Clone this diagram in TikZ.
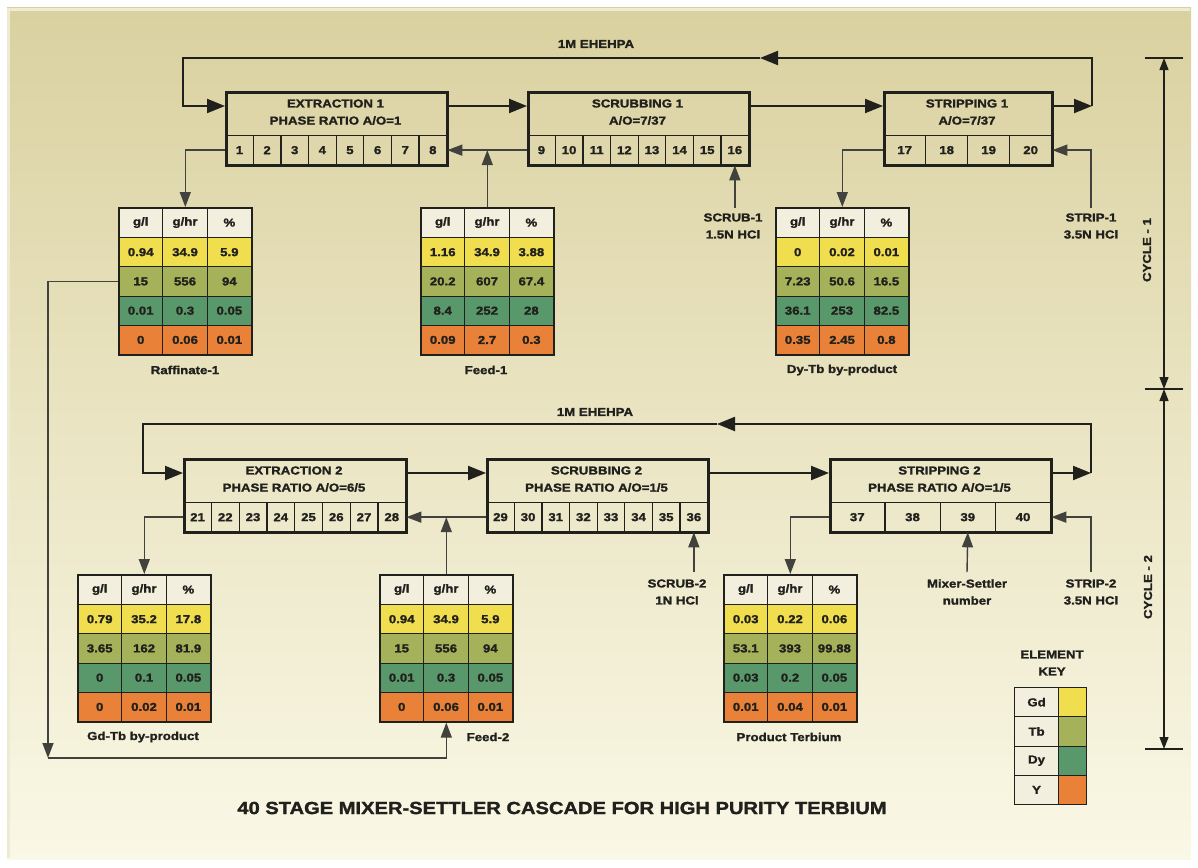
\documentclass[tikz,border=0pt]{standalone}
\usepackage{fontspec}
\setmainfont{Liberation Sans}[FakeStretch=1.15, BoldFeatures={FakeStretch=1.15, FakeBold=1.6}]
\usetikzlibrary{arrows.meta,calc}
\definecolor{cGd}{RGB}{241,222,78}
\definecolor{cTb}{RGB}{166,178,90}
\definecolor{cDy}{RGB}{88,152,106}
\definecolor{cY}{RGB}{233,130,56}
\definecolor{cHead}{RGB}{243,239,222}
\definecolor{ink}{RGB}{32,32,28}
\definecolor{bgA}{RGB}{218,209,160}
\definecolor{bgB}{RGB}{250,248,230}

\tikzset{
 every node/.style={font=\fontsize{11.5}{17}\selectfont\bfseries, text=ink},
 pbox/.style={draw=ink, line width=2.8pt, inner sep=0pt},
 pcell/.style={draw=ink, line width=1.3pt, inner sep=0pt},
 tcell/.style={draw=ink, line width=1.1pt, inner sep=0pt, minimum width=44.333pt, minimum height=29.25pt},
 tframe/.style={draw=ink, line width=1.6pt, inner sep=0pt, minimum width=133pt, minimum height=147pt},
 flow/.style={draw=ink, line width=2.2pt, -{Triangle[length=18pt,width=14pt]}},
 side/.style={draw=ink!85, line width=1.4pt, -{Triangle[length=15pt,width=11pt]}},
 dim/.style={draw=ink, line width=1.2pt},
 lab/.style={align=center, inner sep=1pt},
}

% #1 name, #2 left, #3 top, #4 width, #5 cells, #6 first number, #7 line 1, #8 line 2
\newcommand\ProcBox[8]{%
 \pgfmathsetmacro\pbw{#4/#5}
 \foreach \i in {1,...,#5}{%
   \pgfmathsetmacro\pbx{#2+(\i-1)*\pbw}
   \pgfmathtruncatemacro\nn{#6+\i-1}
   \node[pcell, minimum width=\pbw pt, minimum height=29pt, anchor=north west] (#1-c\i) at (\pbx,#3+44) {\nn};
 }
 \node[pbox, minimum width=#4 pt, minimum height=73pt, anchor=north west] (#1) at (#2,#3) {};
 \node (#1-t1) at (#2+#4/2,#3+12.5) {#7};
 \node (#1-t2) at (#2+#4/2,#3+29.5) {#8};
 \coordinate (#1-w) at (#2,#3+15);
 \coordinate (#1-e) at (#2+#4,#3+15);
}

% #1 name, #2 left, #3 top, #4 rows, #5 label, #6 label x
\newcommand\DataTable[6]{%
 \foreach \h [count=\j] in {g/l,g/hr,\%}{%
   \node[tcell, fill=cHead, minimum height=30pt, anchor=north west] (#1-h\j) at (#2+\j*44.333-44.333,#3) {\h};
 }
 \foreach \col/\a/\b/\c [count=\r] in {#4}{%
   \node[tcell, fill=\col, anchor=north west] (#1-a\r) at (#2, #3+30+\r*29.25-29.25) {\a};
   \node[tcell, fill=\col, anchor=north west] (#1-b\r) at (#2+44.333, #3+30+\r*29.25-29.25) {\b};
   \node[tcell, fill=\col, anchor=north west] (#1-c\r) at (#2+88.667, #3+30+\r*29.25-29.25) {\c};
 }
 \node[tframe, anchor=north west] (#1) at (#2,#3) {};
 \node (#1-lab) at (#6, #3+163) {#5};
}

\begin{document}
\begin{tikzpicture}[x=1pt,y=-1pt]
\useasboundingbox (0,0) rectangle (1198,867);
\fill[white] (0,0) rectangle (1198,867);
\shade[top color=bgA, bottom color=bgB] (7,8) rectangle (1191,859);
\draw[white!55!bgA, line width=3pt] (8.5,858) -- (8.5,9.5) -- (1190,9.5);

% ---------- cycle 1 ----------
\ProcBox{ex1}{225}{91}{221}{8}{1}{EXTRACTION 1}{PHASE RATIO A/O=1}
\ProcBox{sc1}{527}{91}{221}{8}{9}{SCRUBBING 1}{A/O=7/37}
\ProcBox{st1}{883}{91}{168}{4}{17}{STRIPPING 1}{A/O=7/37}

\DataTable{raf1}{118}{207}{cGd/0.94/34.9/5.9,cTb/15/556/94,cDy/0.01/0.3/0.05,cY/0/0.06/0.01}{Raffinate-1}{185}
\DataTable{feed1}{420}{207}{cGd/1.16/34.9/3.88,cTb/20.2/607/67.4,cDy/8.4/252/28,cY/0.09/2.7/0.3}{Feed-1}{486}
\DataTable{dytb}{775}{207}{cGd/0/0.02/0.01,cTb/7.23/50.6/16.5,cDy/36.1/253/82.5,cY/0.35/2.45/0.8}{Dy-Tb by-product}{842}

\node (eh1) at (596,44) {1M EHEHPA};
\node[lab] (scr1lab) at (733,226) {SCRUB-1\\1.5N HCl};
\node[lab] (str1lab) at (1091,226) {STRIP-1\\3.5N HCl};

\coordinate (l1l) at (183,58);
\coordinate (l1r) at (1092,58);
\coordinate (l1m) at (760,58);

\draw[flow] (ex1-e) -- (sc1-w);
\draw[flow] (sc1-e) -- (st1-w);
\draw[flow] (st1-e) -- (st1-e -| l1r);
\draw[flow] (st1-e -| l1r) -- (l1r) -- (l1m);
\draw[flow] (l1m) -- (l1l) -- (l1l |- ex1-w) -- (ex1-w);

\draw[side] (ex1-c1.west) -| (raf1.north);
\draw[side] (feed1.north) -- (feed1.north |- ex1-c8.east);
\draw[side] (sc1-c1.west) -- (ex1-c8.east);
\draw[side] ($(scr1lab.north -| sc1-c8.south)+(0,-4)$) -- (sc1-c8.south);
\draw[side] (st1-c1.west) -| (dytb.north);
\draw[side] ($(str1lab.north)+(0,-4)$) |- (st1-c4.east);

% ---------- cycle 2 ----------
\ProcBox{ex2}{183}{458}{222}{8}{21}{EXTRACTION 2}{PHASE RATIO A/O=6/5}
\ProcBox{sc2}{486}{458}{221}{8}{29}{SCRUBBING 2}{PHASE RATIO A/O=1/5}
\ProcBox{st2}{829}{458}{221}{4}{37}{STRIPPING 2}{PHASE RATIO A/O=1/5}

\DataTable{gdtb}{77}{574}{cGd/0.79/35.2/17.8,cTb/3.65/162/81.9,cDy/0/0.1/0.05,cY/0/0.02/0.01}{Gd-Tb by-product}{143}
\DataTable{feed2}{379}{574}{cGd/0.94/34.9/5.9,cTb/15/556/94,cDy/0.01/0.3/0.05,cY/0/0.06/0.01}{Feed-2}{488}
\DataTable{prod}{723}{574}{cGd/0.03/0.22/0.06,cTb/53.1/393/99.88,cDy/0.03/0.2/0.05,cY/0.01/0.04/0.01}{Product Terbium}{789}

\node (eh2) at (595,412) {1M EHEHPA};
\node[lab] (scr2lab) at (677,592) {SCRUB-2\\1N HCl};
\node[lab] (msnlab) at (967,592) {Mixer-Settler\\number};
\node[lab] (str2lab) at (1091,592) {STRIP-2\\3.5N HCl};

\coordinate (l2l) at (143,424);
\coordinate (l2r) at (1091,424);
\coordinate (l2m) at (717,424);

\draw[flow] (ex2-e) -- (sc2-w);
\draw[flow] (sc2-e) -- (st2-w);
\draw[flow] (st2-e) -- (st2-e -| l2r);
\draw[flow] (st2-e -| l2r) -- (l2r) -- (l2m);
\draw[flow] (l2m) -- (l2l) -- (l2l |- ex2-w) -- (ex2-w);

\draw[side] (ex2-c1.west) -| (gdtb.north);
\draw[side] (feed2.north) -- (feed2.north |- ex2-c8.east);
\draw[side] (sc2-c1.west) -- (ex2-c8.east);
\draw[side] ($(scr2lab.north -| sc2-c8.south)+(0,-6)$) -- (sc2-c8.south);
\draw[side] ($(msnlab.north)+(0,-6)$) -- (st2-c3.south);
\draw[side] (st2-c1.west) -| (prod.north);
\draw[side] ($(str2lab.north)+(0,-6)$) |- (st2-c4.east);

% recycle raffinate-1 to feed-2
\coordinate (ret) at (48,758);
\draw[side] (raf1-a2.west) -| (ret);
\draw[side] (ret) -| (feed2.south);

% ---------- cycle dimension ----------
\coordinate (cy1t) at (1164,58);
\coordinate (cy1b) at (1164,389);
\coordinate (cy2b) at (1164,749);
\draw[dim] ($(cy1t)+(-19,0)$) -- ($(cy1t)+(19,0)$);
\draw[dim] ($(cy1b)+(-19,0)$) -- ($(cy1b)+(19,0)$);
\draw[dim] ($(cy2b)+(-19,0)$) -- ($(cy2b)+(19,0)$);
\draw[dim, {Triangle[length=12pt,width=9pt]}-{Triangle[length=12pt,width=9pt]}] (cy1t) -- (cy1b);
\draw[dim, {Triangle[length=12pt,width=9pt]}-{Triangle[length=12pt,width=9pt]}] (cy1b) -- (cy2b);
\node[rotate=90] (cyc1) at (1147,250) {CYCLE - 1};
\node[rotate=90] (cyc2) at (1148,587) {CYCLE - 2};

% ---------- element key ----------
\node[lab] (keyt) at (1052,663) {ELEMENT\\KEY};
\foreach \e/\col [count=\r] in {Gd/cGd,Tb/cTb,Dy/cDy,Y/cY}{%
  \node[tcell, fill=cHead, minimum width=44pt, anchor=north west] (key-n\r) at (1014, 687+\r*29.25-29.25) {\e};
  \node[tcell, fill=\col, minimum width=28pt, anchor=north west] (key-c\r) at (1058, 687+\r*29.25-29.25) {};
}
\node[draw=ink, line width=1.4pt, inner sep=0pt, minimum width=72pt, minimum height=117pt, anchor=north west] (key) at (1014,687) {};

% ---------- title ----------
\node[font=\fontsize{17.5}{20}\selectfont\bfseries] (title) at (562,808) {40 STAGE MIXER-SETTLER CASCADE FOR HIGH PURITY TERBIUM};
\end{tikzpicture}
\end{document}
